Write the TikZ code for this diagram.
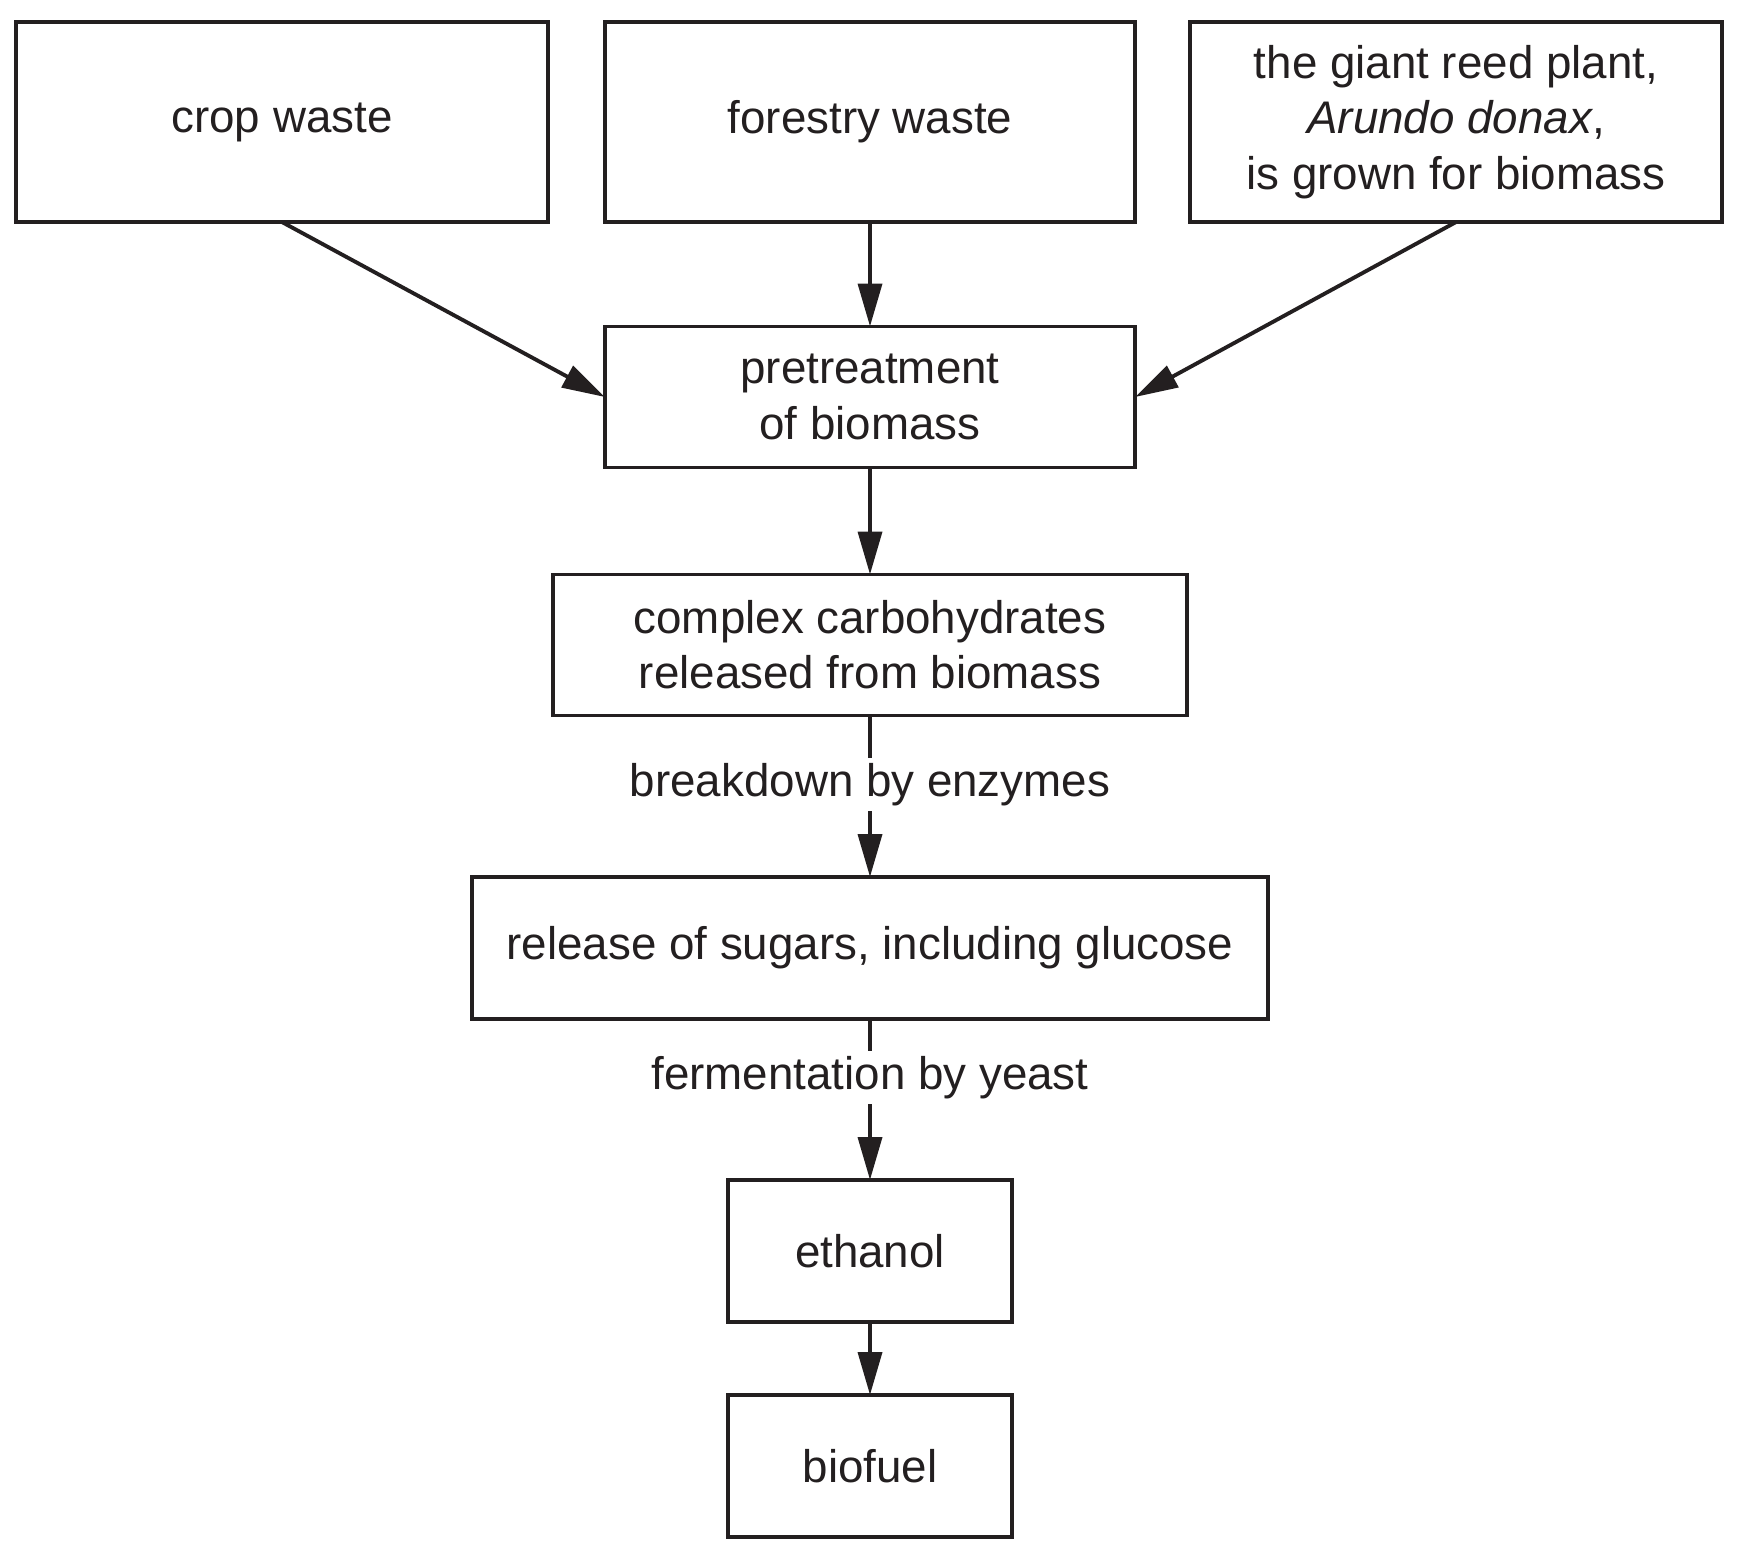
\documentclass[tikz,border=0pt]{standalone}
\usepackage{fontspec}
\setmainfont{Liberation Sans}
\usetikzlibrary{arrows.meta,positioning}
\definecolor{ink}{RGB}{35,31,32}
\tikzset{
	box/.style={draw=ink, line width=1.1pt, rectangle, align=center,
		inner sep=0pt, outer sep=0pt, text=ink,
		font=\fontsize{13}{15.7}\selectfont},
	flow/.style={draw=ink, line width=1.1pt, -{Triangle[length=12.2pt,width=6.8pt]}},
	proclabel/.style={fill=white, text=ink, inner xsep=4pt, inner ysep=1.5pt,
		font=\fontsize{13}{15.7}\selectfont}
}

\begin{document}
\begin{tikzpicture}[x=0.01cm, y=-0.01cm]
	\useasboundingbox (0,0) rectangle (1740,1555);
	% sources
	\node[box, minimum width=5.31cm, minimum height=2cm] (crop) at (282,122) {crop waste};
	\node[box, minimum width=5.30cm, minimum height=2cm] (forest) at (870,122) {forestry waste};
	\node[box, minimum width=5.31cm, minimum height=2cm] (reed) at (1456,122)
		{the giant reed plant,\\ \textit{Arundo donax},\\ is grown for biomass};
	% process chain
	\node[box, minimum width=5.30cm, minimum height=1.41cm] (pre) at (870,397)
		{pretreatment\\ of biomass};
	\node[box, minimum width=6.33cm, minimum height=1.41cm] (carbs) at (870,645)
		{complex carbohydrates\\ released from biomass};
	\node[box, minimum width=7.96cm, minimum height=1.42cm] (sugars) at (870,948)
		{release of sugars, including glucose};
	\node[box, minimum width=2.84cm, minimum height=1.42cm] (eth) at (870,1251) {ethanol};
	\node[box, minimum width=2.84cm, minimum height=1.42cm] (bio) at (870,1466) {biofuel};

	\draw[flow] (crop.south) -- (pre.west);
	\draw[flow] (forest.south) -- (pre.north);
	\draw[flow] (reed.south) -- (pre.east);
	\draw[flow] (pre.south) -- (carbs.north);
	\draw[flow] (carbs.south) -- node[proclabel, pos=0.427] {breakdown by enzymes} (sugars.north);
	\draw[flow] (sugars.south) -- node[proclabel, pos=0.362] {fermentation by yeast} (eth.north);
	\draw[flow] (eth.south) -- (bio.north);
\end{tikzpicture}
\end{document}
